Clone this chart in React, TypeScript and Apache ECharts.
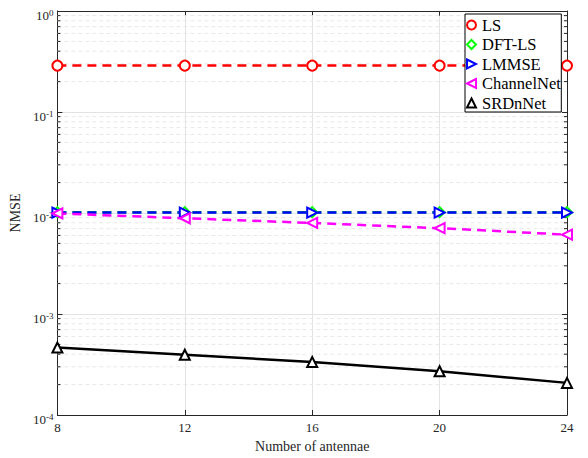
import React, { useEffect, useRef } from "react";
import * as echarts from "echarts";

const antennas = [8, 12, 16, 20, 24];
const lsValues = [0.288, 0.288, 0.288, 0.288, 0.288];
const dftLsValues = [0.0102, 0.0102, 0.0102, 0.0102, 0.0102];
const lmmseValues = [0.0101, 0.0101, 0.0101, 0.0101, 0.0101];
const channelNetValues = [0.0099, 0.00887, 0.00797, 0.00707, 0.0061];
const srdnNetValues = [0.000465, 0.000395, 0.000335, 0.000271, 0.000208];
const legendNames = ["LS", "DFT-LS", "LMMSE", "ChannelNet", "SRDnNet"];
const minorValues: number[] = [];
for (const d of [1e-4, 1e-3, 1e-2, 1e-1]) {
  for (let k = 2; k <= 9; k++) minorValues.push(+(k * d).toPrecision(3));
}

const FONT = "Liberation Serif";
const AXIS = "#262626";
const GRID = "#e3e3e3";
const COLORS: Record<string, string> = {
  LS: "#ff0000",
  "DFT-LS": "#00ff00",
  LMMSE: "#0000ff",
  ChannelNet: "#ff00ff",
  SRDnNet: "#000000",
};

export default function App() {
  const ref = useRef<HTMLDivElement>(null);
  useEffect(() => {
    const chart = echarts.init(ref.current!, null, { renderer: "svg" });
    const mk = (name: string, data: number[], symbol: string, rot: number, dashed: boolean) => {
      const color = COLORS[name];
      return {
        name,
        type: "line",
        data: antennas.map((x, i) => [x, data[i]]),
        symbol,
        symbolSize: 10,
        symbolRotate: rot,
        lineStyle: { color, width: 2.5, type: dashed ? [9, 6] : "solid" },
        itemStyle: { color, borderColor: color, borderWidth: 2 },
        z: 2,
      };
    };
    const legendIcons: Record<string, string> = {
      LS: "circle",
      "DFT-LS": "diamond",
      LMMSE: "path://M0,0 L10,5 L0,10 Z",
      ChannelNet: "path://M10,0 L0,5 L10,10 Z",
      SRDnNet: "triangle",
    };
    chart.setOption({
      animation: false,
      backgroundColor: "#fff",
      textStyle: { fontFamily: FONT },
      grid: { left: 56, right: 21, top: 11, bottom: 41, show: false },
      legend: {
        orient: "vertical",
        left: 465,
        top: 14,
        z: 10,
        padding: [2.5, 0.5, 0.5, 1],
        itemGap: 2.5,
        itemWidth: 9,
        itemHeight: 9,
        symbolRotate: 0,
        borderColor: "#000",
        borderWidth: 1,
        backgroundColor: "#fff",
        textStyle: { fontFamily: FONT, fontSize: 16.5, color: "#000", lineHeight: 17, padding: [0, 0, 0, 1] },
        data: legendNames.map((n) => ({
          name: n,
          icon: legendIcons[n],
          itemStyle: { color: "#fff", borderColor: COLORS[n], borderWidth: 2 },
        })),
      },
      xAxis: [
        {
          type: "value",
          min: 8,
          max: 24,
          interval: 4,
          name: "Number of antennae",
          nameLocation: "middle",
          nameGap: 24,
          nameTextStyle: { fontFamily: FONT, fontSize: 14, color: AXIS },
          axisLine: { show: true, onZero: false, lineStyle: { color: AXIS, width: 1 } },
          axisTick: { inside: true, length: 5, lineStyle: { color: AXIS } },
          axisLabel: { fontFamily: FONT, fontSize: 13, color: AXIS, margin: 6 },
          splitLine: { show: true, lineStyle: { color: GRID, width: 1 } },
        },
        {
          type: "value",
          position: "top",
          min: 8,
          max: 24,
          interval: 4,
          axisLine: { show: true, onZero: false, lineStyle: { color: AXIS, width: 1 } },
          axisTick: { inside: true, length: 5, lineStyle: { color: AXIS } },
          axisLabel: { show: false },
          splitLine: { show: false },
        },
      ],
      yAxis: [
        {
          type: "log",
          logBase: 10,
          min: 0.0001,
          max: 1,
          splitNumber: 4,
          name: "NMSE",
          nameLocation: "middle",
          nameGap: 27,
          nameTextStyle: { fontFamily: FONT, fontSize: 14, color: AXIS },
          axisLine: { show: true, onZero: false, lineStyle: { color: AXIS, width: 1 } },
          axisTick: { inside: true, length: 5, lineStyle: { color: AXIS } },
          axisLabel: {
            margin: 4,
            fontFamily: FONT,
            formatter: (v: number) => `{b|10}{s|${Math.round(Math.log10(v))}}`,
            rich: {
              b: { fontFamily: FONT, fontSize: 13, lineHeight: 15, color: AXIS, padding: [8, 0, 0, 0] },
              s: { fontFamily: FONT, fontSize: 9, lineHeight: 11, color: AXIS, verticalAlign: "top", padding: [5, 0, 0, 0] },
            },
          },
          splitLine: { show: true, lineStyle: { color: GRID, width: 1 } },
        },
        {
          type: "log",
          logBase: 10,
          position: "right",
          min: 0.0001,
          max: 1,
          splitNumber: 4,
          axisLine: { show: true, onZero: false, lineStyle: { color: AXIS, width: 1 } },
          axisTick: { inside: true, length: 5, lineStyle: { color: AXIS } },
          axisLabel: { show: false },
          splitLine: { show: false },
        },
      ],
      series: [
        {
          name: "minor",
          type: "custom",
          silent: true,
          z: 1,
          data: minorValues.map((v) => [8, v]),
          encode: { x: 0, y: 1 },
          renderItem: (params: any, api: any) => {
            const cs = params.coordSys;
            const y = api.coord([8, api.value(1)])[1];
            const x0 = cs.x;
            const x1 = cs.x + cs.width;
            return {
              type: "group",
              children: [
                {
                  type: "line",
                  shape: { x1: x0, y1: y, x2: x1, y2: y },
                  style: { stroke: "#e8e8e8", lineWidth: 1, lineDash: [4, 3] },
                },
                {
                  type: "line",
                  shape: { x1: x0, y1: y, x2: x0 + 3, y2: y },
                  style: { stroke: AXIS, lineWidth: 1 },
                },
                {
                  type: "line",
                  shape: { x1: x1 - 3, y1: y, x2: x1, y2: y },
                  style: { stroke: AXIS, lineWidth: 1 },
                },
              ],
            };
          },
        },
        mk("LS", lsValues, "emptyCircle", 0, true),
        mk("DFT-LS", dftLsValues, "emptyDiamond", 0, true),
        mk("LMMSE", lmmseValues, "emptyTriangle", -90, true),
        mk("ChannelNet", channelNetValues, "emptyTriangle", 90, true),
        mk("SRDnNet", srdnNetValues, "emptyTriangle", 0, false),
      ],
    });
    return () => chart.dispose();
  }, []);
  return <div ref={ref} style={{ position: "fixed", left: 0, top: 0, width: 588, height: 458 }} />;
}
